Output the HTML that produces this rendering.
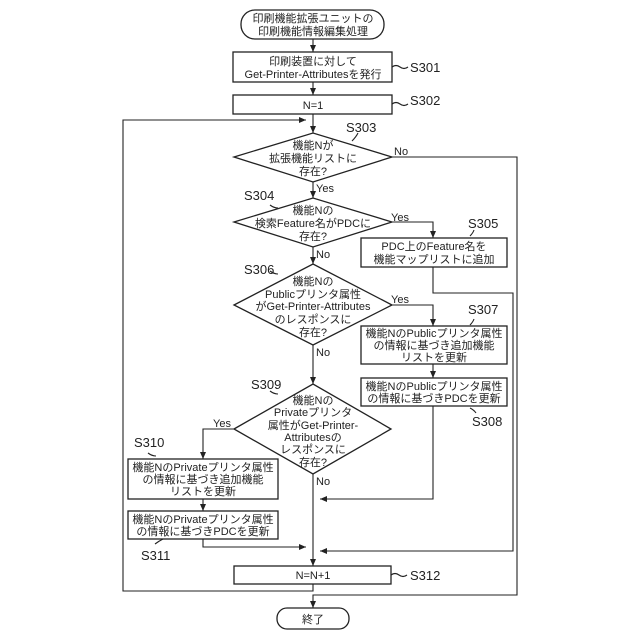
<!DOCTYPE html>
<html><head><meta charset="utf-8"><style>
html,body{margin:0;padding:0;background:#fff;}
svg{display:block;}
text{font-family:"Liberation Sans","Noto Sans CJK JP",sans-serif;font-size:11px;fill:#222;}
.l{font-size:13px;}
</style></head><body>
<svg width="640" height="640" viewBox="0 0 640 640" xmlns="http://www.w3.org/2000/svg">
<defs><marker id="a" markerWidth="8" markerHeight="8" refX="7" refY="4" orient="auto" markerUnits="userSpaceOnUse"><path d="M0,1 L7,4 L0,7 z" fill="#222"/></marker></defs>
<g fill="none" stroke="#222" stroke-width="1.3">
<rect x="241" y="10" width="143" height="29" rx="14"/>
<rect x="233" y="52" width="159" height="30"/>
<rect x="233" y="95" width="159" height="19"/>
<polygon points="234,157 313,133 392,157 313,182"/>
<polygon points="234,222 313,198 392,222 313,247"/>
<rect x="361" y="238" width="146" height="29"/>
<polygon points="234,305 313,264 392,305 313,345"/>
<rect x="361" y="326" width="146" height="38"/>
<rect x="361" y="378" width="146" height="28"/>
<polygon points="234,429 313,384 391,429 313,474"/>
<rect x="128" y="459" width="150" height="40"/>
<rect x="128" y="511" width="150" height="28"/>
<rect x="234" y="566" width="157" height="18"/>
<rect x="277" y="608" width="72" height="21" rx="10"/>
</g>
<g fill="none" stroke="#222" stroke-width="1.1">
<line x1="313" y1="39" x2="313" y2="52" marker-end="url(#a)"/>
<line x1="313" y1="82" x2="313" y2="95" marker-end="url(#a)"/>
<line x1="313" y1="114" x2="313" y2="133" marker-end="url(#a)"/>
<polyline points="313,584 313,591 123,591 123,120 306,120" marker-end="url(#a)"/>
<line x1="313" y1="182" x2="313" y2="198" marker-end="url(#a)"/>
<polyline points="392,157 517,157 517,595 313,595 313,608" marker-end="url(#a)"/>
<polyline points="392,222 433,222 433,238" marker-end="url(#a)"/>
<polyline points="433,267 433,293 513,293 513,551 320,551" marker-end="url(#a)"/>
<line x1="313" y1="247" x2="313" y2="264" marker-end="url(#a)"/>
<polyline points="392,305 433,305 433,326" marker-end="url(#a)"/>
<line x1="433" y1="364" x2="433" y2="378" marker-end="url(#a)"/>
<polyline points="433,406 433,499 320,499" marker-end="url(#a)"/>
<line x1="313" y1="345" x2="313" y2="384" marker-end="url(#a)"/>
<polyline points="234,429 203,429 203,459" marker-end="url(#a)"/>
<line x1="203" y1="499" x2="203" y2="511" marker-end="url(#a)"/>
<polyline points="203,539 203,547 306,547" marker-end="url(#a)"/>
<line x1="313" y1="474" x2="313" y2="566" marker-end="url(#a)"/>
<path d="M392,67 q4,-3 8,0 t8,0"/>
<path d="M392,104 q4,-3 8,0 t8,0"/>
<path d="M391,575 q4,-3 8,0 t8,0"/>
<path d="M352,141 q4,-4 6,-8"/>
<path d="M270,205 q4,3 8,3"/>
<path d="M270,271 q4,3 8,3"/>
<path d="M270,391 q4,3 8,3"/>
<path d="M148,453 q4,3 8,3"/>
<path d="M155,544 q4,-3 8,-5"/>
<path d="M470,236 q3,-3 4,-6"/>
<path d="M470,325 q3,-3 4,-6"/>
<path d="M470,408 q4,2 6,5"/>
</g>
<g text-anchor="middle">
<text x="313" y="22">印刷機能拡張ユニットの</text>
<text x="313" y="35">印刷機能情報編集処理</text>
<text x="313" y="65">印刷装置に対して</text>
<text x="313" y="78">Get-Printer-Attributesを発行</text>
<text x="313" y="109">N=1</text>
<text x="313" y="149">機能Nが</text>
<text x="313" y="162">拡張機能リストに</text>
<text x="313" y="175">存在?</text>
<text x="313" y="214">機能Nの</text>
<text x="313" y="227">検索Feature名がPDCに</text>
<text x="313" y="240">存在?</text>
<text x="434" y="250">PDC上のFeature名を</text>
<text x="434" y="263">機能マップリストに追加</text>
<text x="313" y="285">機能Nの</text>
<text x="313" y="298">Publicプリンタ属性</text>
<text x="313" y="310">がGet-Printer-Attributes</text>
<text x="313" y="323">のレスポンスに</text>
<text x="313" y="336">存在?</text>
<text x="434" y="337">機能NのPublicプリンタ属性</text>
<text x="434" y="349">の情報に基づき追加機能</text>
<text x="434" y="361">リストを更新</text>
<text x="434" y="390">機能NのPublicプリンタ属性</text>
<text x="434" y="402">の情報に基づきPDCを更新</text>
<text x="313" y="404">機能Nの</text>
<text x="313" y="416">Privateプリンタ</text>
<text x="313" y="429">属性がGet-Printer-</text>
<text x="313" y="441">Attributesの</text>
<text x="313" y="453">レスポンスに</text>
<text x="313" y="466">存在?</text>
<text x="203" y="471">機能NのPrivateプリンタ属性</text>
<text x="203" y="483">の情報に基づき追加機能</text>
<text x="203" y="495">リストを更新</text>
<text x="203" y="523">機能NのPrivateプリンタ属性</text>
<text x="203" y="535">の情報に基づきPDCを更新</text>
<text x="313" y="579">N=N+1</text>
<text x="313" y="623">終了</text>
</g>
<text x="394" y="155">No</text>
<text x="316" y="192">Yes</text>
<text x="391" y="221">Yes</text>
<text x="316" y="258">No</text>
<text x="391" y="303">Yes</text>
<text x="316" y="356">No</text>
<text x="213" y="427">Yes</text>
<text x="316" y="485">No</text>
<g class="l">
<text class="l" x="410" y="72">S301</text>
<text class="l" x="410" y="105">S302</text>
<text class="l" x="346" y="132">S303</text>
<text class="l" x="244" y="200">S304</text>
<text class="l" x="468" y="228">S305</text>
<text class="l" x="244" y="274">S306</text>
<text class="l" x="468" y="314">S307</text>
<text class="l" x="472" y="426">S308</text>
<text class="l" x="251" y="389">S309</text>
<text class="l" x="134" y="447">S310</text>
<text class="l" x="141" y="560">S311</text>
<text class="l" x="410" y="580">S312</text>
</g>
</svg>
</body></html>
